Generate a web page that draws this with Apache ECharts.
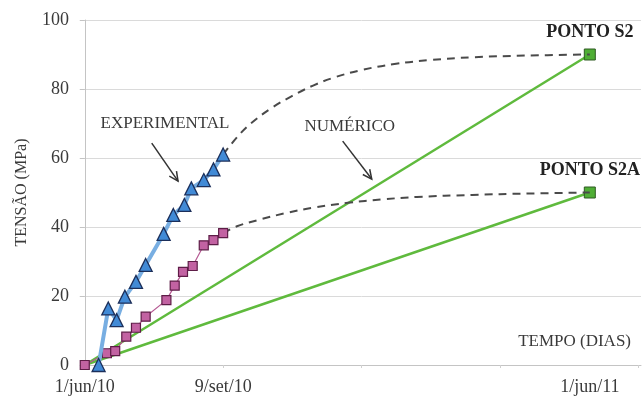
<!DOCTYPE html>
<html>
<head>
<meta charset="utf-8">
<script src="https://cdn.jsdelivr.net/npm/echarts@6/dist/echarts.min.js"></script>
<style>
  html, body { margin: 0; padding: 0; background: #ffffff; }
  #chart { width: 643px; height: 399px; }
</style>
</head>
<body>
<div id="chart"></div>
<script>
// Time in days counted from 1/jun/10, stress in MPa.
const xTickLabels = { 0: '1/jun/10', 100: '9/set/10', 365: '1/jun/11' };
const xLabelDays = [0, 100, 365];
const xTickDays = [100, 200, 300, 400];

// Measured stress, blue (triangles)
const experimentalDays = [10, 17, 23, 29, 37, 44, 57, 64, 72, 77, 86, 93, 100];
const experimentalMPa  = [0, 16.4, 13, 19.8, 24.1, 29, 38, 43.5, 46.4, 51.2, 53.6, 56.7, 61];

// Measured stress, magenta (squares)
const secondDays = [0, 16, 22, 30, 37, 44, 59, 65, 71, 78, 86, 93, 100];
const secondMPa  = [0, 3.4, 4, 8.2, 10.8, 14, 18.8, 23, 27, 28.7, 34.7, 36.2, 38.2];

// Dashed trend curves toward the end points
const trendS2Days = [100, 110, 120, 135, 150, 165, 180, 200, 225, 250, 280, 320, 365];
const trendS2MPa  = [61, 66, 70, 74.5, 78, 81, 83.3, 85.5, 87.3, 88.4, 89.2, 89.7, 90];
const trendS2ADays = [100, 110, 125, 145, 165, 190, 215, 240, 280, 320, 365];
const trendS2AMPa  = [38.2, 40.2, 42, 44, 45.6, 47, 48, 48.7, 49.3, 49.7, 50];

// Numerical model lines (green)
const numericDays = [0, 365];
const numericS2MPa  = [0, 90];
const numericS2AMPa = [0, 50];

const pairs = (xs, ys) => xs.map((x, i) => [x, ys[i]]);
const serif = '"Liberation Serif", "DejaVu Serif", serif';
const textColor = '#3a3a3a';

function endPoint(xs, ys, name) {
  const d = pairs(xs, ys).map(p => ({ value: p, symbol: 'none' }));
  const last = d[d.length - 1];
  last.symbol = 'rect';
  last.label = {
    show: true, position: 'top', distance: 7, formatter: name,
    fontFamily: serif, fontWeight: 'bold', fontSize: 18, color: '#222'
  };
  return d;
}

const chart = echarts.init(document.getElementById('chart'), null, { renderer: 'canvas' });

chart.setOption({
  animation: false,
  backgroundColor: '#ffffff',
  grid: { left: 82, right: 2, top: 20, bottom: 34, containLabel: false },
  xAxis: {
    type: 'value', min: -2, max: 402,
    axisLine: { show: true, lineStyle: { color: '#c4c4c4', width: 1 } },
    axisTick: { show: true, customValues: xTickDays, length: 3, lineStyle: { color: '#d0d0d0' } },
    axisLabel: {
      customValues: xLabelDays, margin: 13,
      formatter: v => xTickLabels[v] || '',
      fontFamily: serif, fontSize: 18, color: textColor
    },
    splitLine: { show: false }
  },
  yAxis: {
    type: 'value', min: 0, max: 100, interval: 20,
    name: 'TENSÃO (MPa)', nameLocation: 'middle', nameGap: 52, nameRotate: 90,
    nameTextStyle: { fontFamily: serif, fontSize: 16, color: textColor },
    axisLine: { show: true, lineStyle: { color: '#c4c4c4', width: 1 } },
    axisTick: { show: true, length: 5, lineStyle: { color: '#c4c4c4' } },
    axisLabel: { margin: 13, fontFamily: serif, fontSize: 18, color: textColor },
    splitLine: { show: true, lineStyle: { color: '#dadada', width: 1 } }
  },
  series: [
    {
      name: 'S2 numérico', type: 'line', data: endPoint(numericDays, numericS2MPa, 'PONTO S2'),
      lineStyle: { color: '#5fba3d', width: 2.5 },
      itemStyle: { color: '#4fae35', borderColor: '#2e5a22', borderWidth: 1 },
      symbolSize: 11, z: 2
    },
    {
      name: 'S2A numérico', type: 'line', data: endPoint(numericDays, numericS2AMPa, 'PONTO S2A'),
      lineStyle: { color: '#5fba3d', width: 2.5 },
      itemStyle: { color: '#4fae35', borderColor: '#2e5a22', borderWidth: 1 },
      symbolSize: 11, z: 2
    },
    {
      name: 'Tendência S2', type: 'line', smooth: 0.4, showSymbol: false,
      data: pairs(trendS2Days, trendS2MPa),
      lineStyle: { color: '#4a4a4a', width: 2, type: [8, 6] }, z: 3
    },
    {
      name: 'Tendência S2A', type: 'line', smooth: 0.4, showSymbol: false,
      data: pairs(trendS2ADays, trendS2AMPa),
      lineStyle: { color: '#4a4a4a', width: 2, type: [8, 6] }, z: 3
    },
    {
      name: 'Magenta', type: 'line', data: pairs(secondDays, secondMPa),
      symbol: 'rect', symbolSize: 9,
      lineStyle: { color: '#b65a94', width: 1.2 },
      itemStyle: { color: '#c262a2', borderColor: '#5e1d47', borderWidth: 1.2 }, z: 4
    },
    {
      name: 'Experimental', type: 'line', data: pairs(experimentalDays, experimentalMPa),
      symbol: 'triangle', symbolSize: 13,
      lineStyle: { color: '#78aee2', width: 4 },
      itemStyle: { color: '#418ad6', borderColor: '#1c2f5a', borderWidth: 1.3 }, z: 5
    }
  ]
});

// Callout texts and arrows, anchored in data space
const callouts = [
  { text: 'EXPERIMENTAL', at: [58, 70.1], from: [48.4, 64.3], to: [67.4, 53.3] },
  { text: 'NUMÉRICO', at: [191.5, 69], from: [186.4, 64.9], to: [207.4, 53.9] }
];

const graphics = [];
callouts.forEach(c => {
  const t = chart.convertToPixel({ gridIndex: 0 }, c.at);
  const a = chart.convertToPixel({ gridIndex: 0 }, c.from);
  const b = chart.convertToPixel({ gridIndex: 0 }, c.to);
  graphics.push({
    type: 'text', x: t[0], y: t[1],
    style: { text: c.text, font: '17px ' + serif, fill: textColor, align: 'center', verticalAlign: 'middle' }
  });
  graphics.push({
    type: 'line', shape: { x1: a[0], y1: a[1], x2: b[0], y2: b[1] },
    style: { stroke: '#333', lineWidth: 1.5 }
  });
  const ang = Math.atan2(b[1] - a[1], b[0] - a[0]);
  const len = 10, spread = 0.45;
  graphics.push({
    type: 'polyline',
    shape: { points: [
      [b[0] - len * Math.cos(ang - spread), b[1] - len * Math.sin(ang - spread)],
      [b[0], b[1]],
      [b[0] - len * Math.cos(ang + spread), b[1] - len * Math.sin(ang + spread)]
    ] },
    style: { stroke: '#333', lineWidth: 1.5, fill: 'none' }
  });
});
graphics.push({
  type: 'text', right: 12, top: 333,
  style: { text: 'TEMPO (DIAS)', font: '17px ' + serif, fill: textColor }
});
chart.setOption({ graphic: graphics });
</script>
</body>
</html>
